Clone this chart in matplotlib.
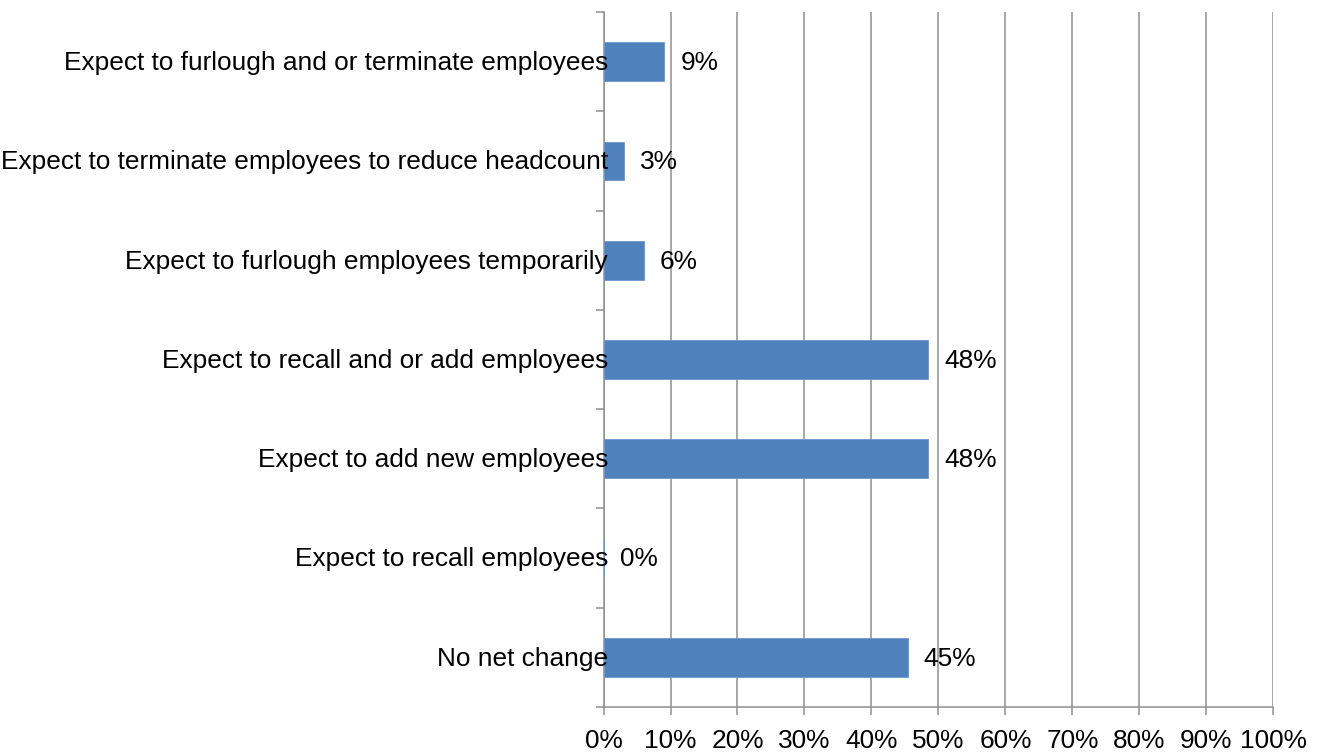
import numpy as np
import matplotlib.pyplot as plt
from matplotlib.ticker import FixedLocator

plt.rcParams['font.family'] = ['Liberation Sans', 'DejaVu Sans']

# categories from top to bottom, as in the chart
categories = [
    "Expect to furlough and or terminate employees",
    "Expect to terminate employees to reduce headcount",
    "Expect to furlough employees temporarily",
    "Expect to recall and or add employees",
    "Expect to add new employees",
    "Expect to recall employees",
    "No net change",
]
values = [9.1, 3.0, 6.0, 48.5, 48.5, 0.0, 45.4]
value_labels = ["9%", "3%", "6%", "48%", "48%", "0%", "45%"]
x_ticks = np.arange(0, 101, 10)
x_tick_labels = [f"{t}%" for t in x_ticks]

grey = "#8f8f8f"
fs = 18.9
fig = plt.figure(figsize=(13.32, 7.55), dpi=100)
ax = fig.add_axes([0.4531, 0.0636, 0.5028, 0.9205])

n = len(categories)
ypos = np.arange(n)[::-1]
ax.barh(ypos, values, height=0.39, color="#4F81BD", edgecolor="#6f96c9",
        linewidth=0.6, zorder=3)

for y, v, lab in zip(ypos, values, value_labels):
    ax.annotate(lab, (v, y), xytext=(11.5, -1), textcoords="offset points",
                va="center", ha="left", fontsize=fs, zorder=4)

# category labels drawn as text so they sit on top of the bars
for y, cat in zip(ypos, categories):
    ax.annotate(cat, (0, y), xytext=(3.2, -1), textcoords="offset points",
                va="center", ha="right", fontsize=fs, zorder=5,
                annotation_clip=False)

ax.set_xlim(0, 100)
ax.set_ylim(-0.5, n - 0.5)

ax.set_xticks(x_ticks)
ax.set_xticklabels(x_tick_labels, fontsize=fs)
ax.tick_params(axis="x", length=6, width=1.1, color=grey, pad=10)

ax.set_yticks(ypos)
ax.set_yticklabels([])
ax.tick_params(axis="y", which="major", length=0)
ax.yaxis.set_minor_locator(FixedLocator(np.arange(-0.5, n, 1.0)))
ax.tick_params(axis="y", which="minor", length=6, width=1.1, color=grey)

ax.grid(axis="x", color=grey, linewidth=1.1, zorder=0)
ax.set_axisbelow(True)
for s in ["top", "right"]:
    ax.spines[s].set_visible(False)
for s in ["left", "bottom"]:
    ax.spines[s].set_color(grey)
    ax.spines[s].set_linewidth(1.1)

fig.savefig("out.png", dpi=100)
